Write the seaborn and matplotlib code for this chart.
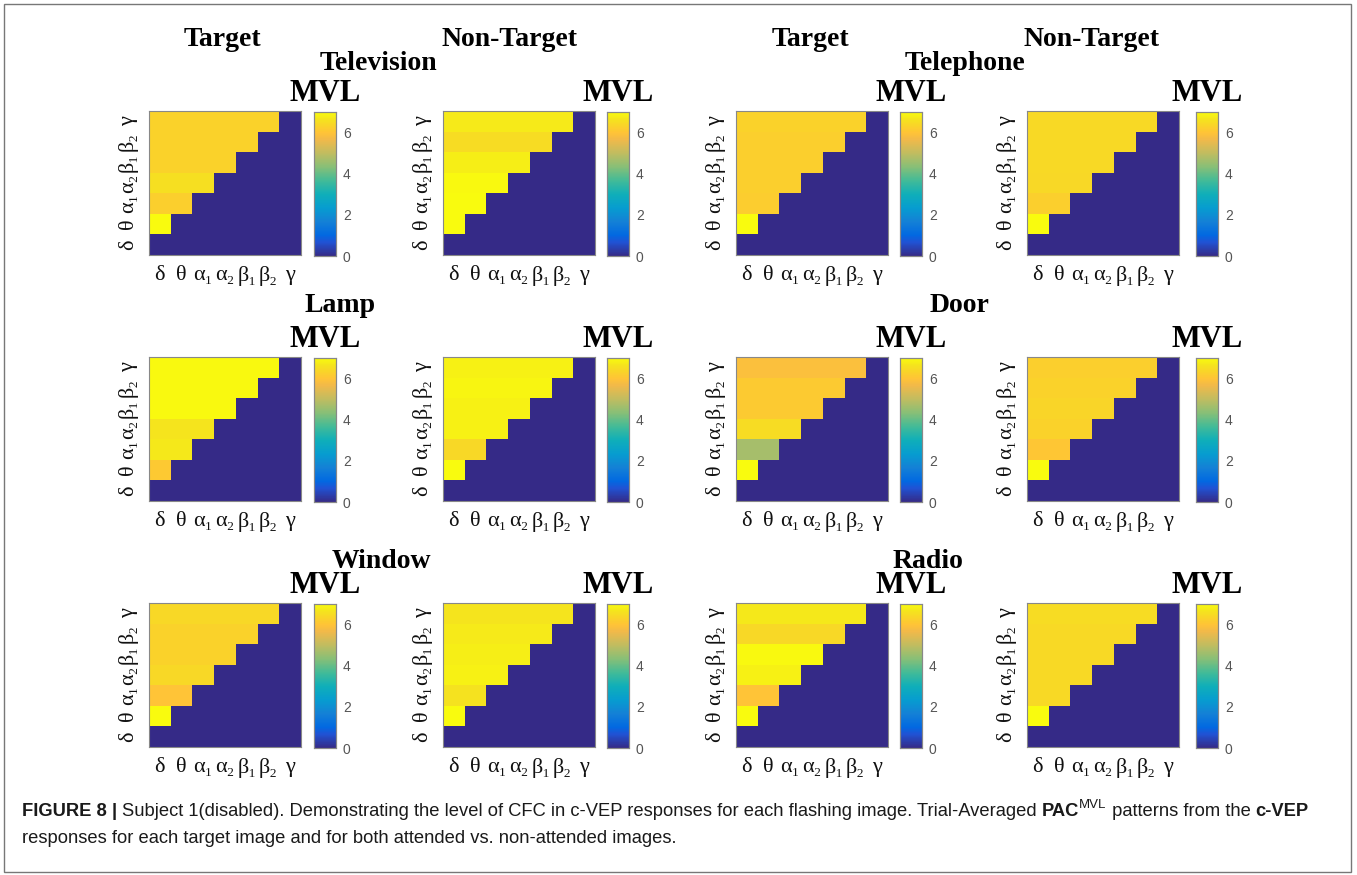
import numpy as np
import pandas as pd
import seaborn as sns
import matplotlib.pyplot as plt
from matplotlib.colors import LinearSegmentedColormap
from matplotlib.transforms import IdentityTransform

# frequency bands (rows/cols of every PAC matrix)
bands = ["δ", "θ", "α₁", "α₂", "β₁", "β₂", "γ"]

images = ["Television", "Telephone", "Lamp", "Door", "Window", "Radio"]

# MVL value of each row (theta .. gamma), cells left of the diagonal
tv_target = [7.0, 6.25, 6.55, 6.3, 6.3, 6.3]
tv_nontarget = [7.0, 7.0, 6.95, 6.8, 6.5, 6.75]
tel_target = [7.0, 6.2, 6.25, 6.25, 6.25, 6.3]
tel_nontarget = [7.0, 6.25, 6.4, 6.45, 6.45, 6.45]
lamp_target = [6.1, 6.7, 6.65, 6.95, 6.95, 6.95]
lamp_nontarget = [7.0, 6.4, 6.85, 6.85, 6.9, 6.85]
door_target = [7.0, 4.7, 6.5, 6.15, 6.15, 5.9]
door_nontarget = [7.0, 6.05, 6.3, 6.35, 6.3, 6.25]
window_target = [7.0, 6.0, 6.4, 6.3, 6.3, 6.4]
window_nontarget = [7.0, 6.6, 6.85, 6.8, 6.75, 6.65]
radio_target = [7.0, 6.0, 6.85, 6.95, 6.4, 6.7]
radio_nontarget = [7.0, 6.45, 6.45, 6.45, 6.45, 6.5]

panels = [
    [tv_target, tv_nontarget, tel_target, tel_nontarget],
    [lamp_target, lamp_nontarget, door_target, door_nontarget],
    [window_target, window_nontarget, radio_target, radio_nontarget],
]

cbar_ticks = [0, 2, 4, 6]

# approx. MATLAB parula
parula = LinearSegmentedColormap.from_list("parula", [
    (0.0, (0.2081, 0.1663, 0.5292)),
    (6/63, (0.1253, 0.3242, 0.8303)),
    (9/63, (0.0060, 0.4086, 0.8828)),
    (15/63, (0.0779, 0.5040, 0.8384)),
    (21/63, (0.0265, 0.6137, 0.8135)),
    (27/63, (0.0590, 0.6838, 0.7254)),
    (33/63, (0.2586, 0.7317, 0.5954)),
    (39/63, (0.5300, 0.7491, 0.4661)),
    (45/63, (0.7525, 0.7384, 0.3768)),
    (51/63, (0.9450, 0.7261, 0.2886)),
    (54/63, (0.9990, 0.7653, 0.2164)),
    (57/63, (0.9789, 0.8271, 0.1633)),
    (60/63, (0.9588, 0.8949, 0.1132)),
    (1.0, (0.9763, 0.9831, 0.0538)),
])


def pac_matrix(row_vals):
    m = np.zeros((7, 7))
    for r, v in enumerate(row_vals, start=1):
        m[r, :r] = v
    # gamma on top, delta at the bottom
    return pd.DataFrame(m[::-1], index=bands[::-1], columns=bands)


sns.set_style("white")
plt.rcParams["font.family"] = ["Liberation Serif", "DejaVu Serif"]
plt.rcParams["text.color"] = "black"

W, H = 1357, 875
fig = plt.figure(figsize=(W / 100, H / 100), dpi=100)


def frac(x, y, w, h):
    return [x / W, 1 - (y + h) / H, w / W, h / H]


hm_left = [149, 443, 736, 1027]
cb_left = [314, 607, 900, 1196]
row_top = [111, 357, 603]
hm_w, hm_h, cb_w = 152, 144, 22

for i in range(3):
    for j in range(4):
        ax = fig.add_axes(frac(hm_left[j], row_top[i], hm_w, hm_h))
        cax = fig.add_axes(frac(cb_left[j], row_top[i] + 1, cb_w, hm_h))
        sns.heatmap(pac_matrix(panels[i][j]), ax=ax, cbar_ax=cax,
                    cmap=parula, vmin=0, vmax=7,
                    cbar_kws={"ticks": cbar_ticks})
        ax.set_xticklabels(bands, rotation=0, fontsize=16)
        ax.set_yticklabels(bands[::-1], rotation=90, va="center", fontsize=16)
        # small inward MATLAB-style ticks
        ax.tick_params(axis="both", direction="in", length=3, width=0.7,
                       color="#666666", labelcolor="#111111", pad=8,
                       top=True, right=True)
        for s in ax.spines.values():
            s.set_visible(True)
            s.set_color("#888888")
            s.set_linewidth(0.8)
        cax.tick_params(labelsize=10, colors="#555555", length=0, pad=5)
        for lab in cax.get_yticklabels():
            lab.set_family("Liberation Sans")
        for s in cax.spines.values():
            s.set_visible(True)
            s.set_color("#888888")
            s.set_linewidth(0.8)
        # "MVL" title centred over the colorbar
        fig.text((cb_left[j] + cb_w / 2) / W, 1 - (row_top[i] - 3) / H, "MVL",
                 ha="center", va="bottom", fontsize=22, fontweight="bold")

# condition headers
for x, s in [(222, "Target"), (510, "Non-Target"), (810, "Target"), (1092, "Non-Target")]:
    fig.text(x / W, 1 - 40 / H, s, ha="center", va="center", fontsize=20, fontweight="bold")

# image names
name_pos = [(378, 64), (965, 64), (340, 306), (960, 306), (381, 561), (928, 561)]
for (x, y), s in zip(name_pos, images):
    fig.text(x / W, 1 - y / H, s, ha="center", va="center", fontsize=20, fontweight="bold")

# figure frame
fig.add_artist(plt.Rectangle((4 / W, 3 / H), 1347 / W, 868 / H, transform=fig.transFigure,
                             fill=False, ec="#777777", lw=1))

# caption
fig.canvas.draw()
renderer = fig.canvas.get_renderer()


def caption_line(x, y, parts):
    for txt, bold, sup in parts:
        t = fig.text(x, H - y + (8 if sup else 0), txt, transform=IdentityTransform(),
                     fontsize=9.5 if sup else 13.2, family="Liberation Sans",
                     fontweight="bold" if bold else "normal", color="#1a1a1a",
                     va="baseline")
        x += t.get_window_extent(renderer).width


caption_line(22, 816, [
    ("FIGURE 8 | ", True, False),
    ("Subject 1(disabled). Demonstrating the level of CFC in c-VEP responses for each flashing image. Trial-Averaged ", False, False),
    ("PAC", True, False),
    ("MVL", False, True),
    (" patterns from the ", False, False),
    ("c-VEP", True, False),
])
caption_line(22, 843, [
    ("responses for each target image and for both attended vs. non-attended images.", False, False),
])

fig.savefig("out.png", dpi=100)
